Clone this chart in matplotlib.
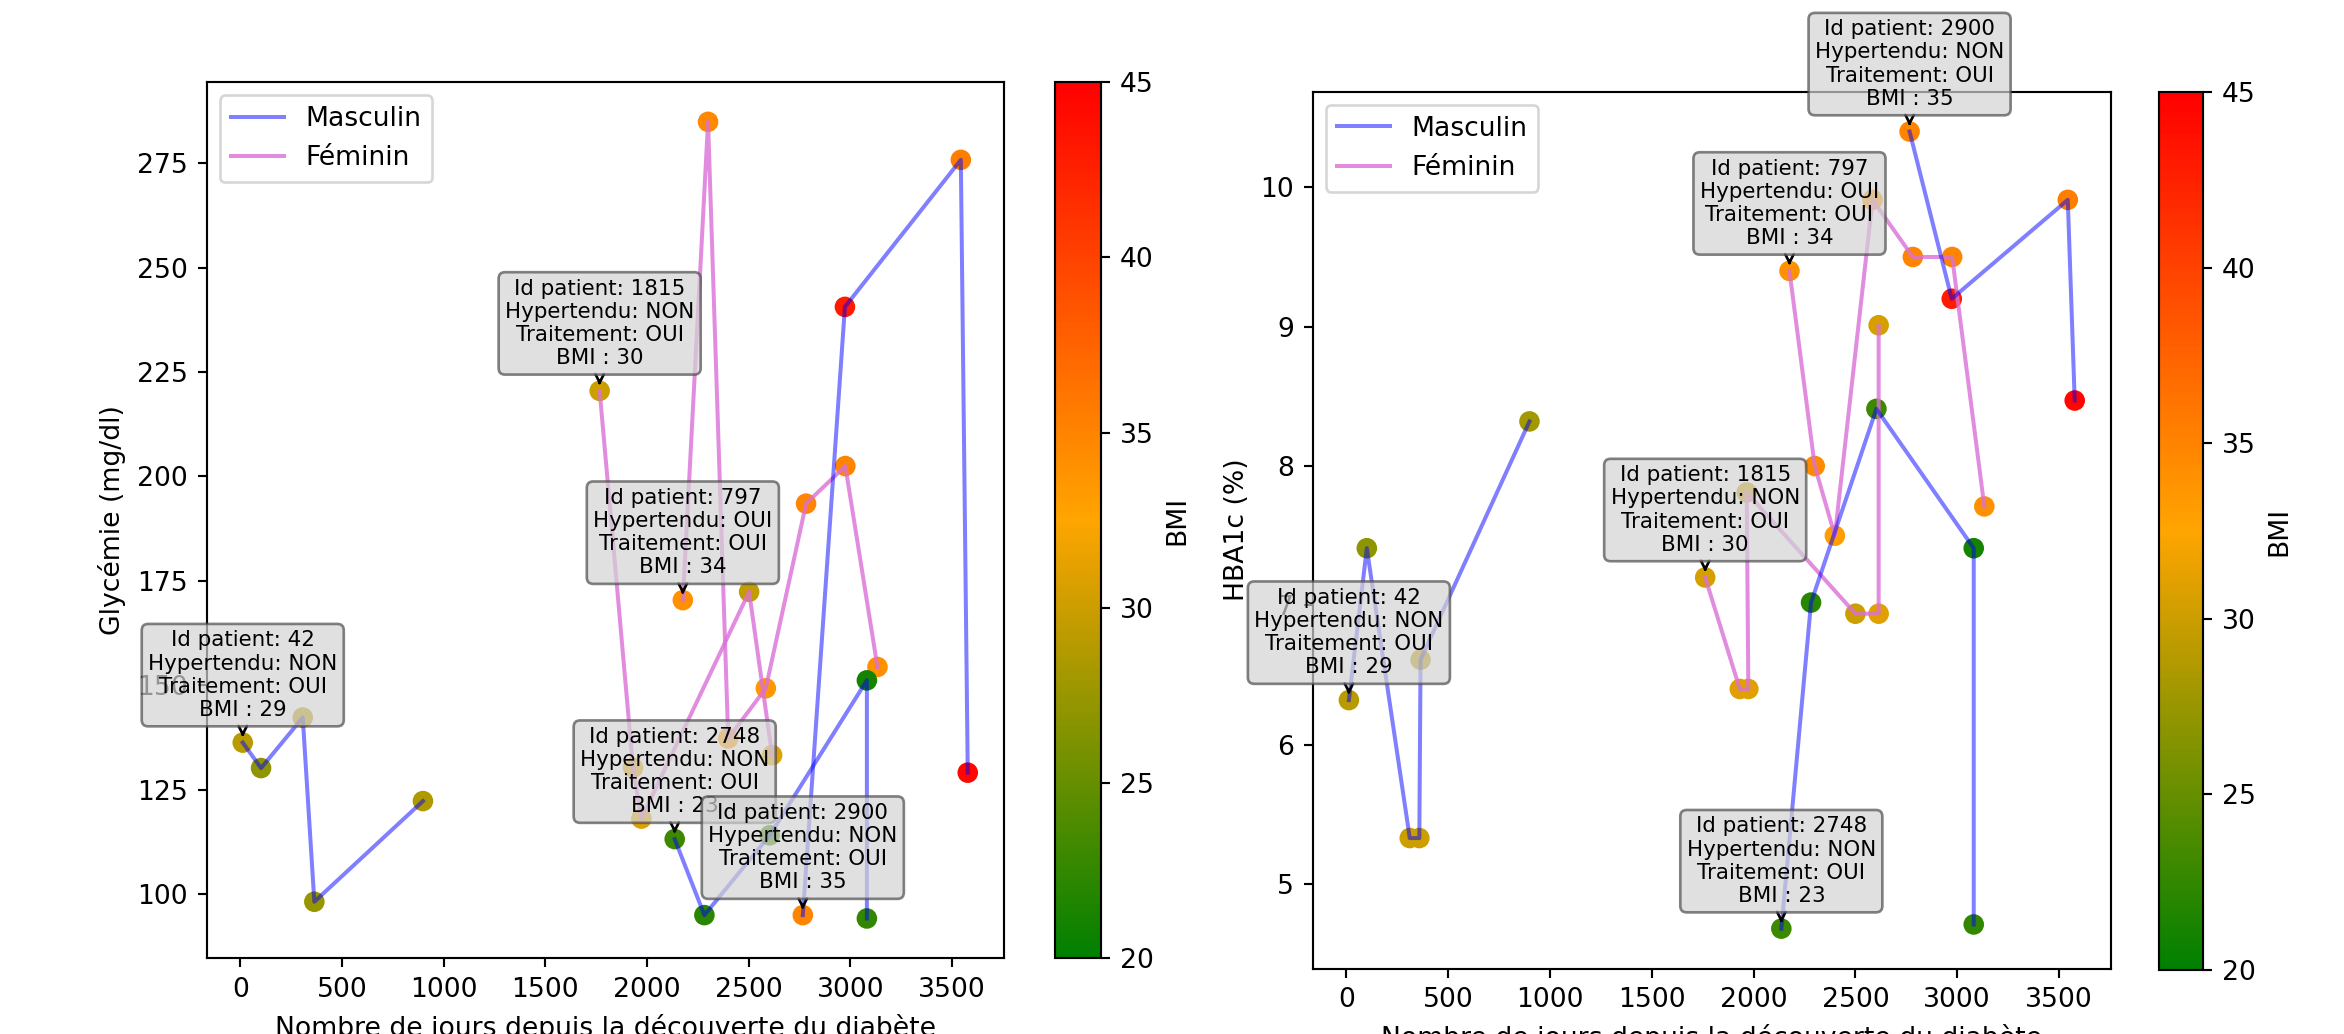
import matplotlib
matplotlib.use("Agg")
import matplotlib.pyplot as plt
from matplotlib.colors import LinearSegmentedColormap, Normalize
from matplotlib.lines import Line2D

# ---------------- patient metadata ----------------
PATIENT_IDS = [42, 1815, 797, 2748, 2900]
SEXE = ["Masculin", "Féminin", "Féminin", "Masculin", "Masculin"]
HYPERTENDU = ["NON", "NON", "OUI", "NON", "NON"]
TRAITEMENT = ["OUI", "OUI", "OUI", "OUI", "OUI"]
BMI_INITIAL = [29, 30, 34, 23, 35]

# ---------------- Glycémie (mg/dl) ----------------
P42_GLY_DAYS = [12, 102, 307, 364, 898]
P42_GLY = [136.3, 130.2, 142.3, 98.2, 122.3]
P42_GLY_BMI = [29, 27, 29, 27.5, 28.5]

P1815_GLY_DAYS = [1767, 1931, 1972, 2502, 2615]
P1815_GLY = [220.5, 130.3, 118.1, 172.4, 133.3]
P1815_GLY_BMI = [30, 31, 31, 29.5, 31]

P797_DAYS = [2176, 2300, 2399, 2584, 2782, 2975, 3133]
P797_GLY = [170.4, 284.9, 137.3, 149.3, 193.5, 202.5, 154.4]
P797_BMI = [34, 34.5, 33, 33.5, 35, 35, 34]

P2748_DAYS = [2136, 2282, 2603, 3081, 3081]
P2748_GLY = [113.2, 95.0, 114.1, 151.2, 94.2]
P2748_BMI = [23, 22, 23, 21, 22.5]

P2900_DAYS = [2766, 2973, 3543, 3577]
P2900_GLY = [95.0, 240.6, 275.8, 129.1]
P2900_BMI = [35, 43, 35.5, 44.5]

# ---------------- HBA1c (%) ----------------
P42_HBA_DAYS = [12, 100, 311, 358, 364, 899]
P42_HBA = [6.32, 7.41, 5.33, 5.33, 6.61, 8.32]
P42_HBA_BMI = [29, 27, 30, 30, 29, 28]

P1815_HBA_DAYS = [1762, 1932, 1974, 1966, 2500, 2614, 2614]
P1815_HBA = [7.20, 6.40, 6.40, 7.81, 6.94, 6.94, 9.01]
P1815_HBA_BMI = [30.5, 31, 31, 30, 30, 31, 30.5]

P797_HBA = [9.40, 8.00, 7.50, 9.91, 9.50, 9.50, 7.71]
P2748_HBA = [4.68, 7.02, 8.41, 7.41, 4.71]
P2900_HBA = [10.40, 9.20, 9.91, 8.47]

BMI_MIN, BMI_MAX = 20, 45

# ---------------- figure ----------------
W, H, DPI = 2344, 1034, 192
fig = plt.figure(figsize=(W / DPI, H / DPI), dpi=DPI)


def box(x0, x1, top, bottom):
    return [x0 / W, 1 - bottom / H, (x1 - x0) / W, (bottom - top) / H]


cmap = LinearSegmentedColormap.from_list("bmi", ["green", "orange", "red"])
norm = Normalize(vmin=BMI_MIN, vmax=BMI_MAX)
sex_color = {"Masculin": ("blue", 0.5), "Féminin": ("orchid", 0.8)}

gly_series = [
    (P42_GLY_DAYS, P42_GLY, P42_GLY_BMI),
    (P1815_GLY_DAYS, P1815_GLY, P1815_GLY_BMI),
    (P797_DAYS, P797_GLY, P797_BMI),
    (P2748_DAYS, P2748_GLY, P2748_BMI),
    (P2900_DAYS, P2900_GLY, P2900_BMI),
]
hba_series = [
    (P42_HBA_DAYS, P42_HBA, P42_HBA_BMI),
    (P1815_HBA_DAYS, P1815_HBA, P1815_HBA_BMI),
    (P797_DAYS, P797_HBA, P797_BMI),
    (P2748_DAYS, P2748_HBA, P2748_BMI),
    (P2900_DAYS, P2900_HBA, P2900_BMI),
]


def draw(ax, cax, series, ylabel):
    sc = None
    for i, (days, vals, bmis) in enumerate(series):
        col, alp = sex_color[SEXE[i]]
        sc = ax.scatter(days, vals, c=bmis, cmap=cmap, norm=norm, s=45)
        ax.plot(days, vals, color=col, alpha=alp, lw=1.5)
    for i, (days, vals, bmis) in enumerate(series):
        txt = (f"Id patient: {PATIENT_IDS[i]}\nHypertendu: {HYPERTENDU[i]}\n"
               f"Traitement: {TRAITEMENT[i]}\nBMI : {BMI_INITIAL[i]}")
        ax.annotate(txt, xy=(days[0], vals[0]), xytext=(0, 10),
                    textcoords="offset points", ha="center", va="baseline",
                    fontsize=8,
                    bbox=dict(boxstyle="round", fc="lightgray", ec="0.3", alpha=0.7),
                    arrowprops=dict(arrowstyle="->", color="black"))
    handles = [Line2D([0], [0], color="blue", alpha=0.5, lw=1.5),
               Line2D([0], [0], color="orchid", alpha=0.8, lw=1.5)]
    ax.legend(handles, ["Masculin", "Féminin"], loc="upper left")
    ax.set_xlabel("Nombre de jours depuis la découverte du diabète")
    ax.set_ylabel(ylabel)
    ax.set_xticks([0, 500, 1000, 1500, 2000, 2500, 3000, 3500])
    cb = fig.colorbar(sc, cax=cax)
    cb.set_label("BMI")
    cb.set_ticks([20, 25, 30, 35, 40, 45])


ax1 = fig.add_axes(box(206.5, 1004, 82, 958.3))
cax1 = fig.add_axes(box(1055, 1101, 82, 958.3))
ax2 = fig.add_axes(box(1312.6, 2111, 91.7, 968.5))
cax2 = fig.add_axes(box(2158.7, 2203.2, 92.4, 969.8))

draw(ax1, cax1, gly_series, "Glycémie (mg/dl)")
ax1.set_yticks([100, 125, 150, 175, 200, 225, 250, 275])
draw(ax2, cax2, hba_series, "HBA1c (%)")
ax2.set_yticks([5, 6, 7, 8, 9, 10])

fig.savefig("out.png", dpi=DPI)
